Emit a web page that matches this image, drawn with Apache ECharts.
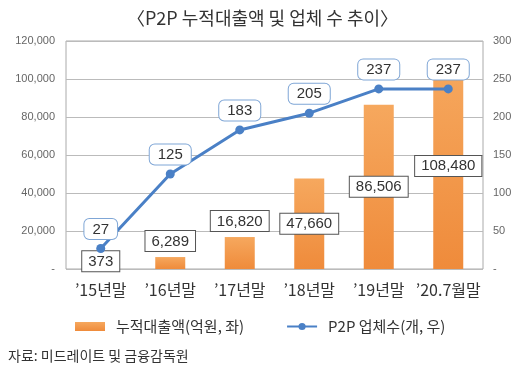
<!DOCTYPE html>
<html><head><meta charset="utf-8">
<script src="https://cdn.jsdelivr.net/npm/echarts@6/dist/echarts.min.js"></script>
<style>html,body{margin:0;padding:0;background:#fff}#c{width:525px;height:373px}</style>
</head><body><div id="c"></div>
<script>
const categories = ["’15년말", "’16년말", "’17년말", "’18년말", "’19년말", "’20.7월말"];
const loanValues = [373, 6289, 16820, 47660, 86506, 108480];
const firmCounts = [27, 125, 183, 205, 237, 237];
const leftTicks = {min: 0, max: 120000, interval: 20000};
const rightTicks = {min: 0, max: 300, interval: 50};
const barLabelPos = ['top', 'top', 'top', 'inside', 'inside', 'inside'];

const FONT = '"Noto Sans CJK KR", "Liberation Sans", sans-serif';
const chart = echarts.init(document.getElementById('c'));

const barData = loanValues.map((v, i) => {
  const d = {value: v, label: {position: barLabelPos[i]}};
  if (i === 0) d.label.offset = [0, 9];
  return d;
});

chart.setOption({
  animation: false,
  textStyle: {fontFamily: FONT},
  title: {
    text: '〈P2P 누적대출액 및 업체 수 추이〉',
    left: 'center', top: 4,
    textStyle: {fontSize: 18, fontWeight: 'normal', color: '#333', fontFamily: FONT}
  },
  graphic: [{
    type: 'text', left: 8, top: 349,
    style: {text: '자료: 미드레이트 및 금융감독원', fontSize: 14, fill: '#333', fontFamily: FONT}
  }],
  legend: {
    left: 70, top: 314, itemGap: 42, itemWidth: 30, itemHeight: 9,
    textStyle: {fontSize: 15, color: '#333', fontFamily: FONT, padding: [0, 0, 0, 6]},
    data: [{name: '누적대출액(억원, 좌)', icon: 'rect'}, {name: 'P2P 업체수(개, 우)'}]
  },
  grid: {left: 66, right: 42, top: 41, bottom: 104, show: true, borderColor: '#aaa', borderWidth: 1},
  xAxis: {
    type: 'category', data: categories,
    axisLine: {show: false}, axisTick: {show: false},
    axisLabel: {fontSize: 16, color: '#333', margin: 13, interval: 0, fontFamily: FONT}
  },
  yAxis: [{
    type: 'value', min: leftTicks.min, max: leftTicks.max, interval: leftTicks.interval,
    axisLine: {show: false}, axisTick: {show: false},
    splitLine: {lineStyle: {color: '#bbb'}},
    axisLabel: {fontSize: 11, color: '#666', margin: 11, fontFamily: '"Liberation Sans", sans-serif',
      formatter: v => v === 0 ? '-' : v.toLocaleString('en-US')}
  }, {
    type: 'value', min: rightTicks.min, max: rightTicks.max, interval: rightTicks.interval,
    axisLine: {show: false}, axisTick: {show: false}, splitLine: {show: false},
    axisLabel: {fontSize: 11, color: '#666', margin: 10, fontFamily: '"Liberation Sans", sans-serif',
      formatter: v => v === 0 ? '-' : String(v)}
  }],
  series: [{
    name: '누적대출액(억원, 좌)', type: 'bar', yAxisIndex: 0, barWidth: 30,
    data: barData,
    itemStyle: {color: new echarts.graphic.LinearGradient(0, 0, 0, 1, [
      {offset: 0, color: '#F6A85E'}, {offset: 1, color: '#EF8B3B'}])},
    label: {
      show: true, distance: 6, fontSize: 15, color: '#333', fontFamily: '"Liberation Sans", sans-serif',
      backgroundColor: '#fff', borderColor: '#555', borderWidth: 1, padding: [3, 6, 2, 6],
      formatter: p => p.value.toLocaleString('en-US')
    },
    z: 2
  }, {
    name: 'P2P 업체수(개, 우)', type: 'line', yAxisIndex: 1,
    data: firmCounts,
    symbol: 'circle', symbolSize: 9,
    lineStyle: {color: '#4A80C6', width: 3},
    itemStyle: {color: '#4A80C6'},
    label: {
      show: true, position: 'top', distance: 5, fontSize: 15, color: '#333',
      fontFamily: '"Liberation Sans", sans-serif',
      backgroundColor: '#fff', borderColor: '#7FA6D6', borderWidth: 1, borderRadius: 5,
      padding: [3, 8, 2, 8]
    },
    z: 3
  }]
});
</script></body></html>
